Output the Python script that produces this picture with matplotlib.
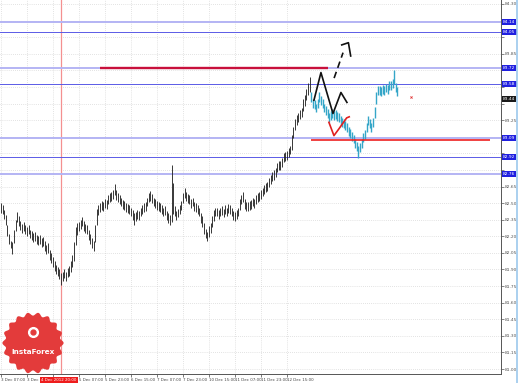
import matplotlib
matplotlib.use("Agg")
import matplotlib.pyplot as plt
from matplotlib.patches import Polygon
from matplotlib.transforms import blended_transform_factory
import numpy as np

W, H = 518, 383

# hourly bars, bar 0 = 3 Dec 07:00
black_high = [
    82.50, 82.48, 82.44, 82.39, 82.30, 82.22, 82.16, 82.15,
    82.26, 82.35, 82.42, 82.38, 82.34, 82.31, 82.33, 82.30,
    82.28, 82.30, 82.26, 82.25, 82.23, 82.24, 82.21, 82.20,
    82.21, 82.18, 82.19, 82.16, 82.12, 82.14, 82.08, 82.05,
    82.01, 81.98, 81.94, 81.92, 81.90, 81.87, 81.88, 81.90,
    81.88, 81.91, 81.93, 81.98, 82.03, 82.15, 82.28, 82.32,
    82.33, 82.35, 82.37, 82.34, 82.31, 82.30, 82.26, 82.22,
    82.18, 82.16, 82.30, 82.45, 82.48, 82.50, 82.52, 82.51,
    82.54, 82.53, 82.57, 82.59, 82.60, 82.62, 82.67, 82.62,
    82.59, 82.57, 82.55, 82.53, 82.52, 82.50, 82.49, 82.48,
    82.46, 82.44, 82.41, 82.42, 82.44, 82.43, 82.46, 82.48,
    82.50, 82.51, 82.55, 82.59, 82.61, 82.58, 82.55, 82.54,
    82.52, 82.51, 82.50, 82.48, 82.46, 82.47, 82.43, 82.41,
    82.39, 82.84, 82.68, 82.47, 82.43, 82.45, 82.48, 82.52,
    82.59, 82.64, 82.60, 82.58, 82.57, 82.54, 82.55, 82.51,
    82.50, 82.48, 82.46, 82.41, 82.38, 82.32, 82.27, 82.24,
    82.29, 82.32, 82.38, 82.44, 82.46, 82.46, 82.44, 82.46,
    82.47, 82.45, 82.48, 82.46, 82.49, 82.48, 82.46, 82.43,
    82.42, 82.44, 82.46, 82.54, 82.57, 82.60, 82.54, 82.51,
    82.51, 82.52, 82.53, 82.55, 82.54, 82.57, 82.59, 82.60,
    82.62, 82.64, 82.66, 82.68, 82.69, 82.73, 82.75, 82.78,
    82.80, 82.82, 82.86, 82.88, 82.88, 82.91, 82.95, 82.96,
    82.97, 83.00, 83.02, 83.12, 83.19, 83.26, 83.30, 83.31,
    83.34, 83.36, 83.44, 83.48, 83.53, 83.59, 83.64,
]
black_low = [
    82.41, 82.40, 82.36, 82.30, 82.20, 82.13, 82.09, 82.04,
    82.14, 82.25, 82.33, 82.29, 82.26, 82.23, 82.25, 82.22,
    82.20, 82.22, 82.18, 82.17, 82.15, 82.16, 82.13, 82.12,
    82.13, 82.10, 82.11, 82.07, 82.04, 82.05, 81.99, 81.96,
    81.92, 81.89, 81.86, 81.84, 81.81, 81.76, 81.80, 81.82,
    81.80, 81.83, 81.84, 81.88, 81.92, 81.98, 82.12, 82.21,
    82.25, 82.27, 82.29, 82.25, 82.23, 82.22, 82.17, 82.13,
    82.09, 82.07, 82.15, 82.30, 82.39, 82.42, 82.44, 82.43,
    82.46, 82.45, 82.49, 82.51, 82.52, 82.54, 82.57, 82.53,
    82.51, 82.49, 82.47, 82.45, 82.44, 82.42, 82.41, 82.40,
    82.38, 82.35, 82.30, 82.34, 82.36, 82.35, 82.38, 82.40,
    82.42, 82.43, 82.47, 82.51, 82.52, 82.50, 82.47, 82.46,
    82.44, 82.43, 82.42, 82.40, 82.38, 82.39, 82.35, 82.32,
    82.30, 82.33, 82.40, 82.38, 82.35, 82.37, 82.40, 82.44,
    82.50, 82.55, 82.52, 82.50, 82.49, 82.46, 82.47, 82.43,
    82.42, 82.40, 82.38, 82.32, 82.28, 82.22, 82.18, 82.16,
    82.19, 82.23, 82.28, 82.34, 82.38, 82.38, 82.36, 82.38,
    82.39, 82.37, 82.40, 82.38, 82.41, 82.40, 82.38, 82.35,
    82.34, 82.36, 82.38, 82.44, 82.49, 82.51, 82.45, 82.43,
    82.43, 82.44, 82.45, 82.47, 82.46, 82.49, 82.51, 82.52,
    82.54, 82.56, 82.58, 82.60, 82.61, 82.65, 82.67, 82.70,
    82.71, 82.74, 82.78, 82.80, 82.80, 82.83, 82.87, 82.88,
    82.89, 82.92, 82.94, 82.98, 83.09, 83.16, 83.21, 83.23,
    83.26, 83.28, 83.33, 83.38, 83.43, 83.48, 83.50,
]
cyan_high = [
    83.50, 83.44, 83.43, 83.40, 83.44, 83.50, 83.47, 83.44,
    83.40, 83.38, 83.35, 83.31, 83.33, 83.35, 83.33, 83.34,
    83.32, 83.31, 83.29, 83.27, 83.26, 83.24, 83.22, 83.19,
    83.17, 83.14, 83.12, 83.08, 83.05, 83.02, 83.04, 83.08,
    83.13, 83.16, 83.22, 83.29, 83.26, 83.22, 83.27, 83.37,
    83.50, 83.56, 83.56, 83.55, 83.57, 83.56, 83.58, 83.57,
    83.60, 83.60, 83.62, 83.70, 83.59, 83.55,
]
cyan_low = [
    83.41, 83.36, 83.35, 83.32, 83.36, 83.41, 83.39, 83.36,
    83.32, 83.30, 83.27, 83.23, 83.25, 83.27, 83.25, 83.26,
    83.24, 83.23, 83.21, 83.19, 83.18, 83.16, 83.14, 83.11,
    83.09, 83.06, 83.04, 83.00, 82.97, 82.91, 82.96, 83.00,
    83.05, 83.08, 83.14, 83.21, 83.18, 83.14, 83.19, 83.27,
    83.40, 83.48, 83.48, 83.47, 83.49, 83.48, 83.50, 83.49,
    83.52, 83.52, 83.54, 83.58, 83.50, 83.47,
]

# third label sits under the red cursor box, as in the terminal
time_labels = ["3 Dec 07:00", "3 Dec 23:00", "", "5 Dec 07:00",
               "5 Dec 23:00", "6 Dec 15:00", "7 Dec 07:00", "7 Dec 23:00",
               "10 Dec 15:00", "11 Dec 07:00", "11 Dec 23:00", "12 Dec 15:00"]
cursor_bar = 37
cursor_label = "4 Dec 2012 20:00"

level_prices = [84.14, 84.05, 83.72, 83.58, 83.09, 82.92, 82.76]
level_dark = [False, True, False, True, False, True, False]
current_price = 83.44
resistance = (61, 201, 83.72)
support = (191, 301, 83.07)

# analyst drawings: (bar, price)
zig_black = [(192.6, 83.43), (196.9, 83.68), (204.3, 83.31), (209.2, 83.50), (212.9, 83.41)]
zig_dash = [(205.0, 83.63), (210.5, 83.86)]
arrow_head = [(209.7, 83.93), (213.8, 83.95), (215.2, 83.83)]
zig_red = [(201.8, 83.23), (204.9, 83.11), (207.9, 83.17), (212.7, 83.27), (214.3, 83.28)]
red_dot = (252.3, 83.46)

tick_prices = [round(84.30 - 0.15 * k, 2) for k in range(23)]

fig = plt.figure(figsize=(W / 100, H / 100), dpi=100)
fig.patch.set_facecolor("white")
ax = fig.add_axes([0, 9 / H, 501 / W, 1 - 9 / H])
ax.set_facecolor("white")
ax.set_xlim(-0.6, 307.7)
ax.set_ylim(80.955, 84.336)

boxed = level_prices + [current_price]
ax.set_yticks(tick_prices)
ax.set_yticklabels([f"{p:.2f}" if min(abs(p - b) for b in boxed) > 0.075 else "" for p in tick_prices])
ax.yaxis.tick_right()
ax.set_xticks(np.arange(len(time_labels)) * 16)
ax.set_xticklabels(time_labels, ha="left")
ax.tick_params(axis="x", labelsize=2.9, colors="#444", length=2, width=0.5, pad=1)
ax.tick_params(axis="y", labelsize=3.2, colors="#555", length=2, width=0.5, pad=1)
ax.grid(True, ls=(0, (1, 2)), color="#c9c9c9", lw=0.5)
for s in ["top", "left"]:
    ax.spines[s].set_visible(False)
for s in ["right", "bottom"]:
    ax.spines[s].set_color("#555")
    ax.spines[s].set_linewidth(0.7)

bx = np.arange(len(black_high))
ax.vlines(bx, black_low, black_high, color="#2a2a2a", lw=0.65, zorder=3)
cx = np.arange(len(cyan_high)) + len(black_high)
ax.vlines(cx, cyan_low, cyan_high, color="#35a6c8", lw=1.0, zorder=3)

ax.axvline(cursor_bar, color="#f49090", lw=0.9, zorder=2)

ylab = blended_transform_factory(ax.transAxes, ax.transData)
for p, dark in zip(level_prices, level_dark):
    if dark:
        ax.axhline(p, color="#5a5ae6", lw=0.7, zorder=2)
    else:
        ax.axhline(p, color="#b4b4f4", lw=1.4, zorder=2)
    ax.text(1.004, p, f"{p:.2f}", transform=ylab,
            ha="left", va="center", fontsize=3.2, color="white", zorder=6, clip_on=False,
            bbox=dict(boxstyle="square,pad=0.25", fc="#2020e0", ec="none"))
ax.text(1.004, current_price, f"{current_price:.2f}", transform=ylab,
        ha="left", va="center", fontsize=3.2, color="white", zorder=6, clip_on=False,
        bbox=dict(boxstyle="square,pad=0.25", fc="#1a1a1a", ec="none"))

ax.hlines(resistance[2], resistance[0], resistance[1], color="#c8103c", lw=1.7, zorder=4)
ax.hlines(support[2], support[0], support[1], color="#ee2020", lw=1.2, zorder=4)

ax.plot(*zip(*zig_black), color="#111", lw=1.2, zorder=5)
ax.plot(*zip(*zig_dash), color="#111", lw=1.2, ls=(0, (4, 2.5)), zorder=5)
ax.plot(*zip(*arrow_head), color="#111", lw=1.2, zorder=5)
ax.plot(*zip(*zig_red), color="#e02020", lw=1.2, zorder=5)
ax.plot(*red_dot, marker="x", ms=1.5, color="#e03030", mew=0.6, zorder=5)

ax.text(cursor_bar - 1.2, -0.012, cursor_label, transform=blended_transform_factory(ax.transData, ax.transAxes),
        ha="center", va="top", fontsize=2.9, color="white", zorder=7, clip_on=False,
        bbox=dict(boxstyle="square,pad=0.25", fc="#ee1c1c", ec="none"))

# overlay in pixel coords for logo and window border
deco = fig.add_axes([0, 0, 1, 1], zorder=10)
deco.set_xlim(0, W)
deco.set_ylim(H, 0)
deco.axis("off")
deco.patch.set_alpha(0)
th = np.linspace(0, 2 * np.pi, 400)
rr = 29 + 1.6 * np.cos(18 * th)
deco.add_patch(Polygon(np.c_[33 + rr * np.cos(th), 343 + rr * np.sin(th)], closed=True,
                       fc="#e33b3b", ec="none"))
deco.plot(33, 332, marker="o", ms=7, color="white")
deco.plot(33, 332, marker="o", ms=3.5, color="#e33b3b")
deco.text(33, 352, "InstaForex", ha="center", va="center", fontsize=5.2, color="white", weight="bold")
deco.plot([517, 517], [0, H], color="#9cc8ec", lw=1.2)

fig.savefig("out.png", dpi=100)
